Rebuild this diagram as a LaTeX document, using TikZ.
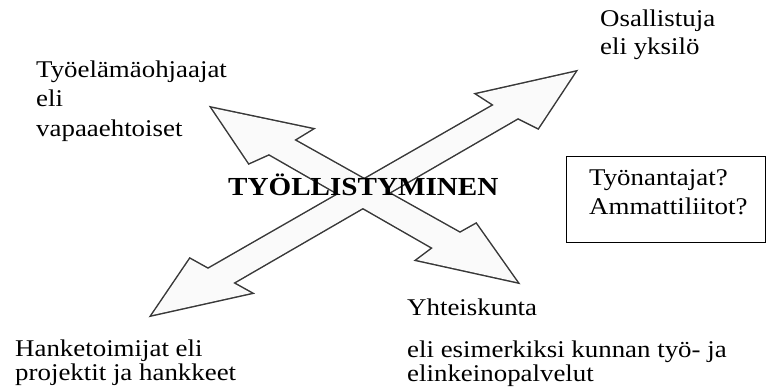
\documentclass[tikz,border=0pt]{standalone}
\usepackage{fontspec}
\setmainfont{Liberation Serif}[FakeStretch=1.12]
\newfontfamily\headfont{Liberation Serif}[FakeStretch=1.12]
\begin{document}
\begin{tikzpicture}[x=1pt,y=-1pt,
  txt/.style={anchor=base west,inner sep=0pt,font=\fontsize{24}{29}\selectfont},
  title/.style={anchor=base west,inner sep=0pt,font=\headfont\fontsize{26}{30}\selectfont\bfseries},
  arrowrim/.style={draw=black!78,line width=3pt,line join=miter},
  arrowbody/.style={fill=black!2}]
\useasboundingbox (0,0) rectangle (768,388);

% the two crossing double-headed block arrows (outline first, fill on top gives one joint outline)
\def\arrowA{(152,315) -- (251,293) -- (233,283) -- (518,118) -- (538,128) -- (575,72)
  -- (477,94) -- (494,105) -- (208,269) -- (190,259) -- cycle}
\def\arrowB{(212,108) -- (312,129) -- (294,140) -- (460,233) -- (476,224) -- (517,282)
  -- (417,260) -- (433,248) -- (269,154) -- (249,163) -- cycle}
\draw[arrowrim] \arrowA;
\draw[arrowrim] \arrowB;
\fill[arrowbody] \arrowA;
\fill[arrowbody] \arrowB;

% centre label
\node[title] (centre) at (228,195) {TYÖLLISTYMINEN};

% upper right
\node[txt] (osa1) at (600,27) {Osallistuja};
\node[txt] (osa2) at (600,54) {eli yksilö};

% upper left
\node[txt] (tyo1) at (36,77) {Työelämäohjaajat};
\node[txt] (tyo2) at (36,106) {eli};
\node[txt] (tyo3) at (36,136) {vapaaehtoiset};

% side box
\draw[line width=1pt] (566,156) rectangle (765,242);
\node[txt] (box1) at (589,185) {Työnantajat?};
\node[txt] (box2) at (589,214) {Ammattiliitot?};

% lower left
\node[txt] (han1) at (15,356) {Hanketoimijat eli};
\node[txt] (han2) at (15,380) {projektit ja hankkeet};

% lower right
\node[txt] (yht1) at (407,315) {Yhteiskunta};
\node[txt] (yht2) at (407,357) {eli esimerkiksi kunnan työ- ja};
\node[txt] (yht3) at (407,381) {elinkeinopalvelut};
\end{tikzpicture}
\end{document}
